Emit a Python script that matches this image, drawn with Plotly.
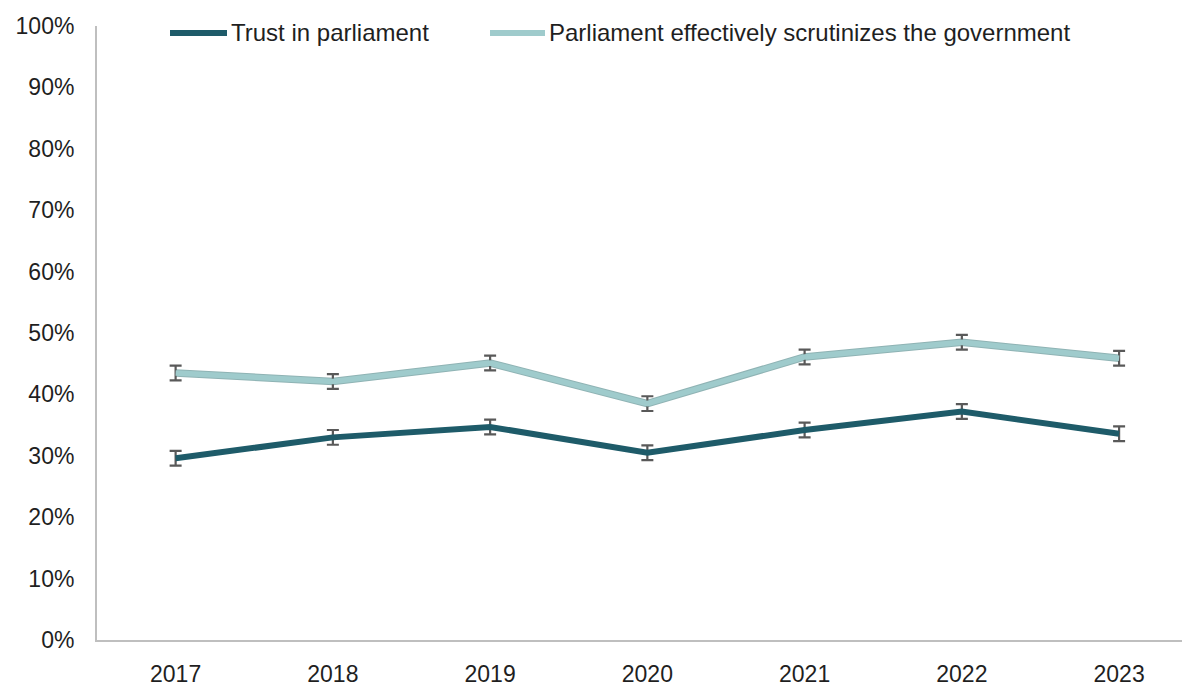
import plotly.graph_objects as go

years = ["2017", "2018", "2019", "2020", "2021", "2022", "2023"]
trust = [29.6, 33.0, 34.7, 30.5, 34.2, 37.2, 33.6]
trust_err = [1.2, 1.2, 1.2, 1.2, 1.2, 1.2, 1.2]
scrutiny = [43.5, 42.1, 45.1, 38.5, 46.1, 48.5, 45.9]
scrutiny_err = [1.2, 1.2, 1.2, 1.2, 1.2, 1.2, 1.2]
series_names = ["Trust in parliament", "Parliament effectively scrutinizes the government"]
y_ticks = list(range(0, 101, 10))
y_tick_labels = [f"{v}%" for v in y_ticks]

W, H = 1182, 686
ML, MR, MT, MB = 97, 0, 26, 46
dark = "#1E5B69"
light = "#9FCBCC"
err_col = "#595959"
txt = "#1F1F1F"
font_fam = "Liberation Sans, Arial, sans-serif"

fig = go.Figure()
fig.add_trace(go.Scatter(
    x=years, y=scrutiny, mode="lines", line=dict(color="#8FB3B4", width=7.5),
    showlegend=False, hoverinfo="skip"))
fig.add_trace(go.Scatter(
    x=years, y=scrutiny, mode="lines", name=series_names[1],
    line=dict(color=light, width=5.5),
    error_y=dict(type="data", array=scrutiny_err, color=err_col, thickness=2.2, width=6),
    showlegend=False))
fig.add_trace(go.Scatter(
    x=years, y=trust, mode="lines", name=series_names[0],
    line=dict(color=dark, width=6),
    error_y=dict(type="data", array=trust_err, color=err_col, thickness=2.2, width=6),
    showlegend=False))

pw = W - ML - MR
ph = H - MT - MB
def px2x(p):
    return (p - ML) / pw
def py2y(p):
    return (H - MB - p) / ph

legend_items = [
    (170, 227, 229, dark, series_names[0]),
    (490, 545, 547, light, series_names[1]),
]
shapes = []
annotations = []
for x0, x1, tx, col, name in legend_items:
    shapes.append(dict(type="line", xref="paper", yref="paper",
                       x0=px2x(x0), x1=px2x(x1), y0=py2y(33), y1=py2y(33),
                       line=dict(color=col, width=6)))
    annotations.append(dict(xref="paper", yref="paper", x=px2x(tx), y=py2y(32),
                            text=name, showarrow=False, xanchor="left", yanchor="middle",
                            font=dict(size=24, color=txt, family=font_fam)))

fig.update_layout(
    width=W, height=H,
    margin=dict(l=ML, r=MR, t=MT, b=MB),
    paper_bgcolor="white", plot_bgcolor="white",
    font=dict(family=font_fam, size=22, color=txt),
    shapes=shapes, annotations=annotations,
    xaxis=dict(type="category", range=[-0.5, 6.4], showgrid=False, zeroline=False,
               showline=True, linecolor="#BFBFBF", linewidth=2, ticks="",
               tickfont=dict(size=23), ticklabelstandoff=12),
    yaxis=dict(range=[0, 100], tickmode="array", tickvals=y_ticks, ticktext=y_tick_labels,
               showgrid=False, zeroline=False, showline=True, linecolor="#BFBFBF", linewidth=2,
               ticks="", tickfont=dict(size=23), ticklabelstandoff=16),
)
fig.write_html("out.html")
